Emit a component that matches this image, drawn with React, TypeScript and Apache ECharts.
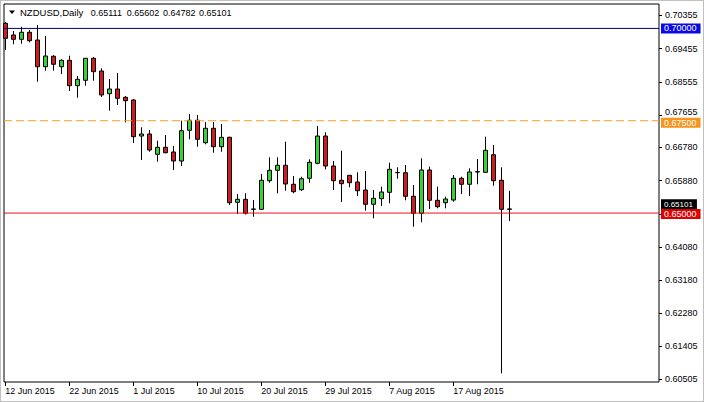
import React, { useEffect, useRef } from "react";
import * as echarts from "echarts";

const symbolName = "NZDUSD,Daily";
const headerValues = ["0.65111", "0.65602", "0.64782", "0.65101"];

const dates = [
  "12 Jun 2015", "14 Jun 2015", "15 Jun 2015", "16 Jun 2015", "17 Jun 2015", "18 Jun 2015", "19 Jun 2015", "21 Jun 2015",
  "22 Jun 2015", "23 Jun 2015", "24 Jun 2015", "25 Jun 2015", "26 Jun 2015", "28 Jun 2015", "29 Jun 2015", "30 Jun 2015",
  "1 Jul 2015", "2 Jul 2015", "3 Jul 2015", "5 Jul 2015", "6 Jul 2015", "7 Jul 2015", "8 Jul 2015", "9 Jul 2015",
  "10 Jul 2015", "12 Jul 2015", "13 Jul 2015", "14 Jul 2015", "15 Jul 2015", "16 Jul 2015", "17 Jul 2015", "19 Jul 2015",
  "20 Jul 2015", "21 Jul 2015", "22 Jul 2015", "23 Jul 2015", "24 Jul 2015", "26 Jul 2015", "27 Jul 2015", "28 Jul 2015",
  "29 Jul 2015", "30 Jul 2015", "31 Jul 2015", "2 Aug 2015", "3 Aug 2015", "4 Aug 2015", "5 Aug 2015", "6 Aug 2015",
  "7 Aug 2015", "9 Aug 2015", "10 Aug 2015", "11 Aug 2015", "12 Aug 2015", "13 Aug 2015", "14 Aug 2015", "16 Aug 2015",
  "17 Aug 2015", "18 Aug 2015", "19 Aug 2015", "20 Aug 2015", "21 Aug 2015", "23 Aug 2015", "24 Aug 2015", "25 Aug 2015",
];

const opens = [
  0.70138, 0.69822, 0.69705, 0.69895, 0.69686, 0.68963, 0.69245, 0.68963,
  0.69136, 0.68449, 0.68595, 0.69191, 0.68847, 0.68232, 0.68359, 0.68134,
  0.68061, 0.67086, 0.67141, 0.66591, 0.66780, 0.66653, 0.66409, 0.67241,
  0.67512, 0.66905, 0.67295, 0.66797, 0.67051, 0.65291, 0.65372, 0.65101,
  0.65101, 0.65876, 0.66158, 0.66293, 0.65779, 0.65632, 0.65941, 0.66347,
  0.67086, 0.66274, 0.65887, 0.66022, 0.65841, 0.65624, 0.65237, 0.65389,
  0.65562, 0.66093, 0.66093, 0.65454, 0.64993, 0.66166, 0.65345, 0.65280,
  0.65353, 0.65941, 0.65779, 0.66112, 0.66103, 0.66580, 0.65887, 0.65111,
];
const closes = [
  0.69732, 0.69705, 0.69895, 0.69667, 0.68963, 0.69253, 0.69028, 0.69136,
  0.68449, 0.68622, 0.69191, 0.68828, 0.68197, 0.68359, 0.68107, 0.68042,
  0.67067, 0.67141, 0.66707, 0.66780, 0.66634, 0.66409, 0.67230, 0.67512,
  0.66997, 0.67295, 0.66797, 0.67051, 0.65280, 0.65372, 0.64993, 0.65110,
  0.65887, 0.66158, 0.66293, 0.65787, 0.65578, 0.65930, 0.66374, 0.67086,
  0.66274, 0.65876, 0.65795, 0.65822, 0.65605, 0.65237, 0.65399, 0.65570,
  0.66185, 0.66100, 0.65454, 0.64993, 0.66166, 0.65345, 0.65172, 0.65380,
  0.65941, 0.65779, 0.66112, 0.66120, 0.66699, 0.65876, 0.65101, 0.65101,
];
const lows = [
  0.69415, 0.69570, 0.69586, 0.69624, 0.68557, 0.68855, 0.68855, 0.68765,
  0.68305, 0.68124, 0.68449, 0.68584, 0.68143, 0.67772, 0.67926, 0.67457,
  0.66897, 0.66437, 0.66661, 0.66391, 0.66618, 0.66166, 0.66274, 0.66997,
  0.66797, 0.66862, 0.66634, 0.66661, 0.65218, 0.64974, 0.64961, 0.64901,
  0.65083, 0.65822, 0.65535, 0.65605, 0.65535, 0.65597, 0.65822, 0.66320,
  0.66185, 0.65624, 0.65299, 0.65697, 0.65462, 0.65064, 0.64858, 0.65191,
  0.65264, 0.65930, 0.65345, 0.64630, 0.64749, 0.65110, 0.65129, 0.65129,
  0.65307, 0.65516, 0.65462, 0.65779, 0.66093, 0.65741, 0.60660, 0.64782,
];
const highs = [
  0.70174, 0.69930, 0.70046, 0.69957, 0.70092, 0.69794, 0.69280, 0.69164,
  0.69261, 0.68711, 0.69199, 0.69226, 0.68920, 0.68630, 0.68793, 0.68170,
  0.68088, 0.67322, 0.67249, 0.66959, 0.67114, 0.66816, 0.67501, 0.67682,
  0.67655, 0.67466, 0.67466, 0.67411, 0.67067, 0.65516, 0.65535, 0.65353,
  0.66057, 0.66510, 0.66510, 0.66932, 0.66003, 0.65984, 0.66455, 0.67357,
  0.67187, 0.66409, 0.66688, 0.66030, 0.66103, 0.66139, 0.65624, 0.65714,
  0.66363, 0.66239, 0.66301, 0.65760, 0.66482, 0.66255, 0.65714, 0.65443,
  0.66030, 0.65984, 0.66212, 0.66464, 0.67067, 0.66843, 0.66239, 0.65602,
];

const yTickValues = [
  0.60505, 0.61405, 0.6228, 0.6318, 0.6408, 0.6498, 0.6588, 0.6678, 0.67655, 0.68555, 0.69455, 0.70355,
];
// 0.64980 is fully hidden behind the price boxes in the reference
const yLabelValues = [
  0.60505, 0.61405, 0.6228, 0.6318, 0.6408, 0.6588, 0.6678, 0.67655, 0.68555, 0.69455, 0.70355,
];
const xTickIndexes = [0, 8, 16, 24, 32, 40, 48, 56];

const lineBlue = 0.7;
const lineOrange = 0.675;
const lineRed = 0.65;
const bidPrice = 0.65101;

const X_MIN = -0.1625;
const X_MAX = 81.7125;
const Y_MIN = 0.60425;
const Y_MAX = 0.70661;

const FONT = "Liberation Sans";
const FS = 9;

export default function App() {
  const ref = useRef<HTMLDivElement>(null);

  useEffect(() => {
    if (!ref.current) return;
    const chart = echarts.init(ref.current, undefined, { renderer: "svg" });
    const data = dates.map((_, i) => [i, opens[i], closes[i], lows[i], highs[i]]);

    const levelSeries = (
      value: number,
      lineStyle: any,
      bg: string,
      dy: number,
      size = FS
    ) => ({
      type: "line",
      data: [
        [X_MIN, value],
        [X_MAX, value],
      ],
      symbol: "none",
      silent: true,
      clip: false,
      lineStyle,
      z: 4,
      endLabel: {
        show: true,
        formatter: () => value.toFixed(5),
        distance: 2,
        offset: [0, dy],
        backgroundColor: bg,
        color: "#ffffff",
        fontSize: size,
        fontFamily: FONT,
        padding: [1, 4, 0, 3],
        lineHeight: 9,
      },
    });

    const headerStarts = [90.7, 126.8, 162.9, 199];

    chart.setOption({
      animation: false,
      backgroundColor: "#ffffff",
      graphic: [
        {
          type: "polygon",
          shape: { points: [[9, 10.5], [15, 10.5], [12, 14]] },
          style: { fill: "#000000" },
          silent: true,
        },
        {
          type: "text",
          x: 20,
          y: 12.7,
          silent: true,
          style: {
            text: symbolName,
            fill: "#000000",
            font: `${FS + 0.5}px "${FONT}"`,
            verticalAlign: "middle",
            align: "left",
          },
        },
        ...headerValues.map((t, i) => ({
          type: "text",
          x: headerStarts[i],
          y: 12.7,
          silent: true,
          style: {
            text: t,
            fill: "#000000",
            font: `${FS}px "${FONT}"`,
            verticalAlign: "middle",
            align: "left",
          },
        })),
      ],
      grid: {
        left: 4,
        right: 45,
        top: 4,
        bottom: 20,
        show: true,
        borderColor: "#000000",
        borderWidth: 1,
        backgroundColor: "#ffffff",
      },
      xAxis: {
        type: "value",
        min: X_MIN,
        max: X_MAX,
        splitLine: { show: false },
        axisLine: { show: false, onZero: false },
        axisTick: {
          show: true,
          customValues: xTickIndexes,
          length: 4,
          lineStyle: { color: "#000000" },
        },
        axisLabel: {
          customValues: xTickIndexes,
          formatter: (v: number) => dates[Math.round(v)] ?? "",
          align: "left",
          margin: 4,
          color: "#000000",
          fontSize: FS,
          fontFamily: FONT,
        },
      },
      yAxis: {
        type: "value",
        position: "right",
        min: Y_MIN,
        max: Y_MAX,
        splitLine: { show: false },
        axisLine: { show: false, onZero: false },
        axisTick: {
          show: true,
          customValues: yTickValues,
          length: 3,
          lineStyle: { color: "#000000" },
        },
        axisLabel: {
          customValues: yLabelValues,
          formatter: (v: number) =>
            Math.abs(v - 0.67655) < 1e-6 ? "{up|" + v.toFixed(5) + "}" : v.toFixed(5),
          margin: 6,
          color: "#000000",
          fontSize: FS,
          fontFamily: FONT,
          rich: {
            up: { padding: [0, 0, 6, 0], fontSize: FS, fontFamily: FONT, color: "#000000" },
          },
        },
      },
      series: [
        {
          type: "candlestick",
          data,
          barWidth: 4,
          z: 3,
          itemStyle: {
            color: "#36d236",
            color0: "#d01c1c",
            borderColor: "#000000",
            borderColor0: "#000000",
            borderWidth: 1,
          },
        },
        levelSeries(lineBlue, { color: "#000080", width: 1, type: "solid" }, "#0a0ae6", 0),
        levelSeries(lineOrange, { color: "#f0a028", width: 1, type: [8, 4] }, "#f7941d", 2),
        levelSeries(bidPrice, { color: "transparent", width: 1 }, "#000000", -5, 8),
        levelSeries(lineRed, { color: "#e8141c", width: 1, type: "solid" }, "#e00000", 1),
      ],
    });
    return () => chart.dispose();
  }, []);

  return (
    <div style={{ position: "fixed", left: 0, top: 0, width: 704, height: 402, background: "#fff" }}>
      <div ref={ref} style={{ position: "absolute", left: 0, top: 0, width: 704, height: 402 }} />
      <div
        style={{
          position: "absolute",
          left: 0,
          top: 0,
          width: 704,
          height: 402,
          boxSizing: "border-box",
          border: "1px solid #c0c0c0",
          pointerEvents: "none",
        }}
      />
    </div>
  );
}
